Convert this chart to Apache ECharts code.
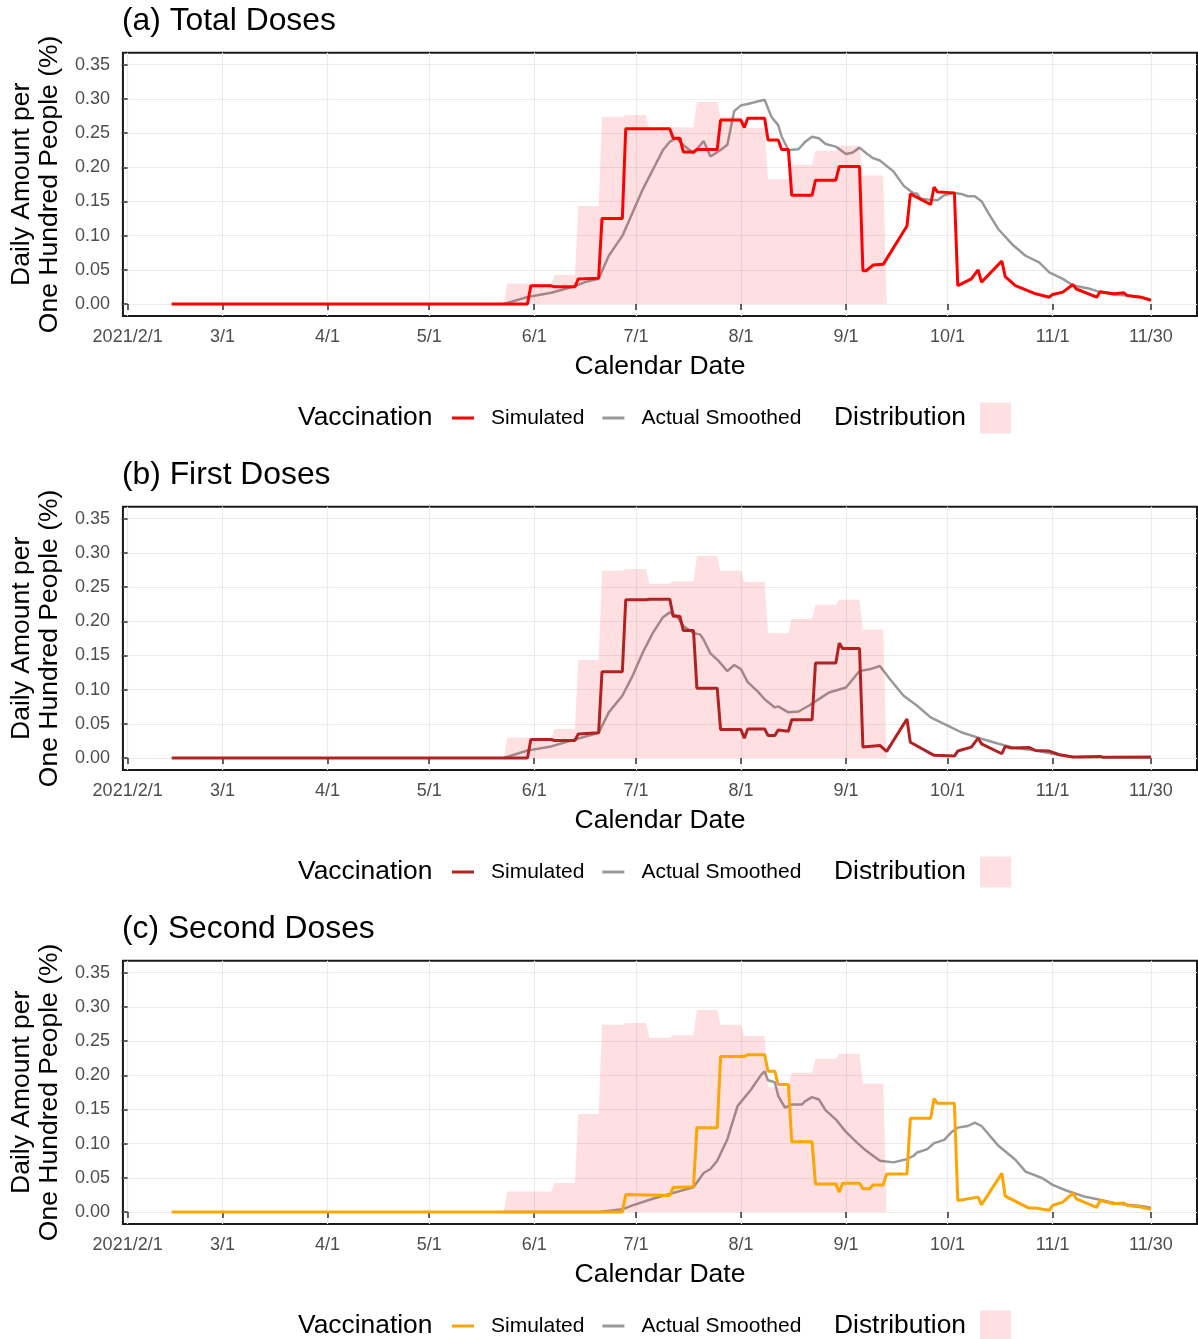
<!DOCTYPE html>
<html>
<head>
<meta charset="utf-8">
<script src="https://cdn.jsdelivr.net/npm/echarts@6/dist/echarts.min.js"></script>
<style>
  html, body { margin: 0; padding: 0; background: #fff; }
  #chart { width: 1198px; height: 1339px; }
</style>
</head>
<body>
<div id="chart"></div>
<script>
// x axis ticks (dates in 2021) and their labels
const tickDates = ['2/1', '3/1', '4/1', '5/1', '6/1', '7/1', '8/1', '9/1', '10/1', '11/1', '11/30']
const tickLabels = ['2021/2/1', '3/1', '4/1', '5/1', '6/1', '7/1', '8/1', '9/1', '10/1', '11/1', '11/30']
const yTicks = [0, 0.05, 0.1, 0.15, 0.2, 0.25, 0.3, 0.35]

const panelTitles = ['(a) Total Doses', '(b) First Doses', '(c) Second Doses']
const simColors = ['#FF0000', '#B22222', '#FFA500']

// weekly vaccine distribution (same in all panels)
const distribution = [
  ['5/23', 0], ['5/24', 0.030], ['6/6', 0.030], ['6/7', 0.0425], ['6/13', 0.0425],
  ['6/14', 0.1435], ['6/20', 0.1435], ['6/21', 0.274], ['6/27', 0.274], ['6/28', 0.2765],
  ['7/4', 0.2765], ['7/5', 0.255], ['7/11', 0.255], ['7/12', 0.2585], ['7/18', 0.2585],
  ['7/19', 0.2955], ['7/25', 0.2955], ['7/26', 0.2737], ['8/1', 0.2737], ['8/2', 0.2575],
  ['8/8', 0.2575], ['8/9', 0.1825], ['8/15', 0.1825], ['8/16', 0.2036], ['8/22', 0.2036],
  ['8/23', 0.224], ['8/29', 0.224], ['8/30', 0.2316], ['9/5', 0.2316], ['9/6', 0.188],
  ['9/12', 0.188], ['9/13', 0]
]

const simTotal = [
  ['2/14', 0], ['5/30', 0], ['5/31', 0.0266], ['6/6', 0.0266], ['6/7', 0.0251], ['6/13', 0.0251],
  ['6/14', 0.0367], ['6/20', 0.0377], ['6/21', 0.1252], ['6/27', 0.1252], ['6/28', 0.2563],
  ['7/11', 0.2563], ['7/12', 0.2423], ['7/14', 0.2423], ['7/15', 0.2224], ['7/18', 0.2224],
  ['7/19', 0.226], ['7/25', 0.226], ['7/26', 0.269], ['8/1', 0.269], ['8/2', 0.258],
  ['8/3', 0.2717], ['8/8', 0.2717], ['8/9', 0.240], ['8/12', 0.240], ['8/13', 0.226],
  ['8/15', 0.226], ['8/16', 0.159], ['8/22', 0.159], ['8/23', 0.181], ['8/29', 0.181],
  ['8/30', 0.201], ['9/5', 0.201], ['9/6', 0.0488], ['9/7', 0.0488], ['9/9', 0.057],
  ['9/12', 0.058], ['9/19', 0.114], ['9/20', 0.161], ['9/26', 0.1455], ['9/27', 0.171],
  ['9/28', 0.164], ['10/3', 0.1625], ['10/4', 0.027], ['10/8', 0.0367], ['10/10', 0.050],
  ['10/11', 0.032], ['10/17', 0.063], ['10/18', 0.040], ['10/21', 0.027], ['10/27', 0.015],
  ['10/31', 0.010], ['11/1', 0.014], ['11/4', 0.0174], ['11/7', 0.0285], ['11/8', 0.022],
  ['11/14', 0.010], ['11/15', 0.018], ['11/19', 0.015], ['11/22', 0.0164], ['11/23', 0.0126],
  ['11/27', 0.010], ['11/30', 0.0053]
]

const actTotal = [
  ['5/23', 0], ['5/30', 0.0102], ['6/6', 0.0164], ['6/13', 0.0261], ['6/16', 0.032], ['6/20', 0.0368],
  ['6/23', 0.0706], ['6/27', 0.0996], ['6/30', 0.1335], ['7/3', 0.1673], ['7/6', 0.1963],
  ['7/9', 0.2253], ['7/11', 0.2374], ['7/13', 0.2423], ['7/15', 0.2326], ['7/18', 0.2205],
  ['7/21', 0.2384], ['7/23', 0.2157], ['7/26', 0.2253], ['7/28', 0.233], ['7/30', 0.282],
  ['8/1', 0.2905], ['8/3', 0.2925], ['8/5', 0.295], ['8/8', 0.2988], ['8/10', 0.2737],
  ['8/12', 0.2616], ['8/13', 0.245], ['8/15', 0.2253], ['8/18', 0.2263], ['8/20', 0.2374],
  ['8/22', 0.2447], ['8/24', 0.2423], ['8/26', 0.234], ['8/29', 0.2302], ['9/1', 0.2195],
  ['9/3', 0.2215], ['9/5', 0.2287], ['9/7', 0.2205], ['9/9', 0.2133], ['9/11', 0.2099],
  ['9/15', 0.194], ['9/18', 0.1731], ['9/21', 0.1615], ['9/22', 0.1615], ['9/23', 0.1542],
  ['9/25', 0.1528], ['9/28', 0.1518], ['9/30', 0.1591], ['10/3', 0.1625], ['10/5', 0.161],
  ['10/7', 0.1576], ['10/9', 0.1576], ['10/11', 0.1504], ['10/13', 0.1334], ['10/16', 0.1093],
  ['10/20', 0.0875], ['10/24', 0.0706], ['10/28', 0.0609], ['10/31', 0.0464], ['11/4', 0.0368],
  ['11/7', 0.0271], ['11/12', 0.0222], ['11/15', 0.0174], ['11/19', 0.014], ['11/23', 0.0126],
  ['11/27', 0.0102], ['11/30', 0.0068]
]

const simFirst = [
  ['2/14', 0], ['5/30', 0], ['5/31', 0.0271], ['6/6', 0.0271], ['6/7', 0.0257], ['6/13', 0.0257],
  ['6/14', 0.0353], ['6/20', 0.0368], ['6/21', 0.1263], ['6/27', 0.1263], ['6/28', 0.2314],
  ['7/4', 0.2314], ['7/5', 0.2323], ['7/11', 0.2323], ['7/12', 0.2072], ['7/14', 0.2072],
  ['7/15', 0.1863], ['7/18', 0.1863], ['7/19', 0.1021], ['7/25', 0.1021], ['7/26', 0.0416],
  ['8/1', 0.0416], ['8/2', 0.029], ['8/3', 0.0426], ['8/8', 0.0426], ['8/9', 0.0329],
  ['8/11', 0.0329], ['8/12', 0.0411], ['8/15', 0.0392], ['8/16', 0.056], ['8/22', 0.056],
  ['8/23', 0.139], ['8/29', 0.139], ['8/30', 0.168], ['8/31', 0.160], ['9/5', 0.160],
  ['9/6', 0.016], ['9/11', 0.0184], ['9/13', 0.0097], ['9/19', 0.057], ['9/20', 0.023],
  ['9/27', 0.0039], ['10/3', 0.0029], ['10/4', 0.0102], ['10/8', 0.016], ['10/10', 0.029],
  ['10/11', 0.0208], ['10/17', 0.0063], ['10/18', 0.0169], ['10/20', 0.0145], ['10/25', 0.0155],
  ['10/27', 0.011], ['10/31', 0.0102], ['11/3', 0.0048], ['11/7', 0.0015], ['11/15', 0.0024],
  ['11/16', 0.001], ['11/30', 0.0015]
]

const actFirst = [
  ['5/23', 0], ['5/30', 0.0111], ['6/6', 0.017], ['6/13', 0.0271], ['6/20', 0.0368], ['6/23', 0.0668],
  ['6/27', 0.091], ['6/30', 0.12], ['7/3', 0.154], ['7/6', 0.183], ['7/9', 0.206], ['7/11', 0.213],
  ['7/13', 0.208], ['7/15', 0.193], ['7/18', 0.183], ['7/20', 0.1805], ['7/21', 0.173],
  ['7/23', 0.153], ['7/25', 0.144], ['7/28', 0.127], ['7/30', 0.136], ['8/1', 0.130],
  ['8/3', 0.111], ['8/6', 0.097], ['8/8', 0.086], ['8/11', 0.074], ['8/12', 0.0755],
  ['8/15', 0.0668], ['8/18', 0.068], ['8/21', 0.0765], ['8/24', 0.0862], ['8/27', 0.0958],
  ['9/1', 0.1031], ['9/5', 0.1273], ['9/8', 0.1297], ['9/11', 0.1345], ['9/14', 0.1152],
  ['9/18', 0.091], ['9/22', 0.0765], ['9/26', 0.0595], ['10/1', 0.0474], ['10/5', 0.0377],
  ['10/11', 0.0281], ['10/16', 0.0208], ['10/21', 0.0145], ['10/27', 0.0111], ['11/1', 0.0063],
  ['11/7', 0.0015], ['11/16', 0.001], ['11/30', 0.0005]
]

const simSecond = [
  ['2/14', 0], ['6/27', 0], ['6/28', 0.0257], ['7/11', 0.0242], ['7/12', 0.0358], ['7/18', 0.0368],
  ['7/19', 0.1234], ['7/25', 0.1234], ['7/26', 0.2275], ['8/2', 0.2275], ['8/3', 0.230],
  ['8/8', 0.230], ['8/9', 0.2057], ['8/11', 0.2057], ['8/12', 0.1863], ['8/15', 0.1863],
  ['8/16', 0.1026], ['8/22', 0.1026], ['8/23', 0.0411], ['8/29', 0.0411], ['8/30', 0.029],
  ['8/31', 0.0421], ['9/5', 0.0421], ['9/6', 0.0339], ['9/8', 0.0339], ['9/9', 0.0397],
  ['9/12', 0.0397], ['9/13', 0.0557], ['9/19', 0.0557], ['9/20', 0.137], ['9/26', 0.137],
  ['9/27', 0.166], ['9/28', 0.159], ['10/3', 0.159], ['10/4', 0.0169], ['10/10', 0.0218],
  ['10/11', 0.0106], ['10/17', 0.0566], ['10/18', 0.0232], ['10/25', 0.0058], ['10/27', 0.0058],
  ['10/31', 0.0024], ['11/1', 0.0097], ['11/4', 0.0145], ['11/7', 0.0276], ['11/8', 0.0194],
  ['11/14', 0.0068], ['11/15', 0.0169], ['11/19', 0.0121], ['11/22', 0.0131], ['11/23', 0.0097],
  ['11/27', 0.0073], ['11/30', 0.0039]
]

const actSecond = [
  ['5/23', 0], ['6/20', 0], ['6/27', 0.0039], ['6/30', 0.0097], ['7/6', 0.0194], ['7/11', 0.0266],
  ['7/18', 0.0363], ['7/21', 0.0571], ['7/23', 0.0629], ['7/25', 0.075], ['7/28', 0.1065],
  ['7/31', 0.1549], ['8/4', 0.1791], ['8/7', 0.2009], ['8/8', 0.2057], ['8/9', 0.1926],
  ['8/11', 0.1897], ['8/12', 0.17], ['8/14', 0.1525], ['8/16', 0.1573], ['8/19', 0.1573],
  ['8/20', 0.1621], ['8/22', 0.168], ['8/24', 0.1646], ['8/26', 0.1486], ['8/29', 0.1355],
  ['9/1', 0.1171], ['9/4', 0.1026], ['9/7', 0.0895], ['9/11', 0.075], ['9/15', 0.0726],
  ['9/19', 0.0774], ['9/21', 0.0823], ['9/22', 0.0871], ['9/25', 0.092], ['9/27', 0.1007],
  ['9/30', 0.1055], ['10/2', 0.1162], ['10/4', 0.1234], ['10/7', 0.1258], ['10/9', 0.1307],
  ['10/11', 0.1258], ['10/16', 0.0968], ['10/21', 0.0765], ['10/24', 0.059], ['10/29', 0.0494],
  ['11/1', 0.0397], ['11/5', 0.0315], ['11/10', 0.0232], ['11/16', 0.0169], ['11/20', 0.0121],
  ['11/27', 0.0087], ['11/30', 0.0063]
]

const simData = [simTotal, simFirst, simSecond]
const actData = [actTotal, actFirst, actSecond]

// days since 2021/2/1
function dayOf (md) {
  const [m, d] = md.split('/').map(Number)
  return (Date.UTC(2021, m - 1, d) - Date.UTC(2021, 1, 1)) / 86400000
}
function toXY (rows) {
  return rows.map(r => [dayOf(r[0]), r[1]])
}

const tickDays = tickDates.map(dayOf)
const labelOf = {}
tickDays.forEach((d, i) => { labelOf[d] = tickLabels[i] })

const FONT = '"Liberation Sans", Arial, Helvetica, sans-serif'
const PANEL_H = 454
const GRID_TOP = 52.7
const GRID_H = 263.3
const DIST_COLOR = 'rgba(255,0,20,0.12)'
const ACT_COLOR = '#999999'

const grids = []
const xAxes = []
const yAxes = []
const series = []
const legends = []
const graphics = []

panelTitles.forEach((title, k) => {
  const off = k * PANEL_H
  const tag = '#' + k
  grids.push({
    left: 122, top: GRID_TOP + off, width: 1075, height: GRID_H,
    show: true, borderColor: '#1a1a1a', borderWidth: 2, backgroundColor: 'transparent'
  })
  xAxes.push({
    gridIndex: k, type: 'value', min: -1.39, max: 315.6,
    axisLine: { show: false },
    axisTick: { show: true, customValues: tickDays, length: 6, lineStyle: { color: '#333', width: 1.5 } },
    axisLabel: {
      customValues: tickDays, formatter: v => labelOf[v] || '',
      color: '#4D4D4D', fontSize: 18, margin: 12, fontFamily: FONT
    },
    splitLine: { show: true, lineStyle: { color: '#EBEBEB', width: 1.2 } },
    name: 'Calendar Date', nameLocation: 'middle', nameGap: 37,
    nameTextStyle: { fontSize: 26.5, color: '#000', fontFamily: FONT }
  })
  yAxes.push({
    gridIndex: k, type: 'value', min: -0.0175, max: 0.3675,
    axisLine: { show: false },
    axisTick: { show: true, customValues: yTicks, length: 6, lineStyle: { color: '#333', width: 1.5 } },
    axisLabel: {
      customValues: yTicks, formatter: v => v.toFixed(2),
      color: '#4D4D4D', fontSize: 18, margin: 13, fontFamily: FONT
    },
    splitLine: { show: true, lineStyle: { color: '#EBEBEB', width: 1.2 } },
    name: 'Daily Amount per\nOne Hundred People (%)', nameLocation: 'middle', nameGap: 58, nameRotate: 90,
    nameTextStyle: { fontSize: 26.5, lineHeight: 28, color: '#000', fontFamily: FONT }
  })

  series.push({
    name: 'Actual Smoothed' + tag, type: 'line', xAxisIndex: k, yAxisIndex: k, z: 2,
    data: toXY(actData[k]), symbol: 'none', silent: true,
    itemStyle: { color: ACT_COLOR }, lineStyle: { color: ACT_COLOR, width: 2.5 }
  })
  series.push({
    name: 'Distribution' + tag, type: 'line', xAxisIndex: k, yAxisIndex: k, z: 3,
    data: toXY(distribution), symbol: 'none', silent: true,
    itemStyle: { color: DIST_COLOR }, lineStyle: { width: 0 },
    areaStyle: { color: DIST_COLOR, origin: 0, opacity: 1 }
  })
  series.push({
    name: 'Simulated' + tag, type: 'line', xAxisIndex: k, yAxisIndex: k, z: 4,
    data: toXY(simData[k]), symbol: 'none', silent: true,
    itemStyle: { color: simColors[k] }, lineStyle: { color: simColors[k], width: 3 }
  })

  legends.push({
    left: 452, top: 407.5 + off, padding: 0, orient: 'horizontal',
    itemWidth: 22, itemHeight: 3, itemGap: 18, icon: 'rect', selectedMode: false,
    data: ['Simulated' + tag, 'Actual Smoothed' + tag],
    formatter: n => n.split('#')[0],
    itemStyle: { borderWidth: 0 },
    textStyle: { fontSize: 21, color: '#000', fontFamily: FONT, padding: [0, 0, 0, 12] }
  })
  legends.push({
    left: 980, top: 402.5 + off, padding: 0,
    itemWidth: 31, itemHeight: 31, icon: 'rect', selectedMode: false,
    data: ['Distribution' + tag],
    formatter: () => '',
    itemStyle: { borderWidth: 0 },
    textStyle: { fontSize: 12 }
  })

  graphics.push({
    type: 'text', x: 122, y: 21 + off,
    style: { text: title, font: '31.8px ' + FONT, fill: '#000', textAlign: 'left', textVerticalAlign: 'middle', verticalAlign: 'middle' }
  })
  graphics.push({
    type: 'text', x: 298, y: 418 + off,
    style: { text: 'Vaccination', font: '26.4px ' + FONT, fill: '#000', textAlign: 'left', textVerticalAlign: 'middle', verticalAlign: 'middle' }
  })
  graphics.push({
    type: 'text', x: 834, y: 418 + off,
    style: { text: 'Distribution', font: '26.4px ' + FONT, fill: '#000', textAlign: 'left', textVerticalAlign: 'middle', verticalAlign: 'middle' }
  })
})

const myChart = echarts.init(document.getElementById('chart'), null, { renderer: 'canvas' })
const option = {
  backgroundColor: '#fff',
  animation: false,
  textStyle: { fontFamily: FONT },
  grid: grids,
  xAxis: xAxes,
  yAxis: yAxes,
  legend: legends,
  series: series,
  graphic: graphics
}
myChart.setOption(option, true)
</script>
</body>
</html>
